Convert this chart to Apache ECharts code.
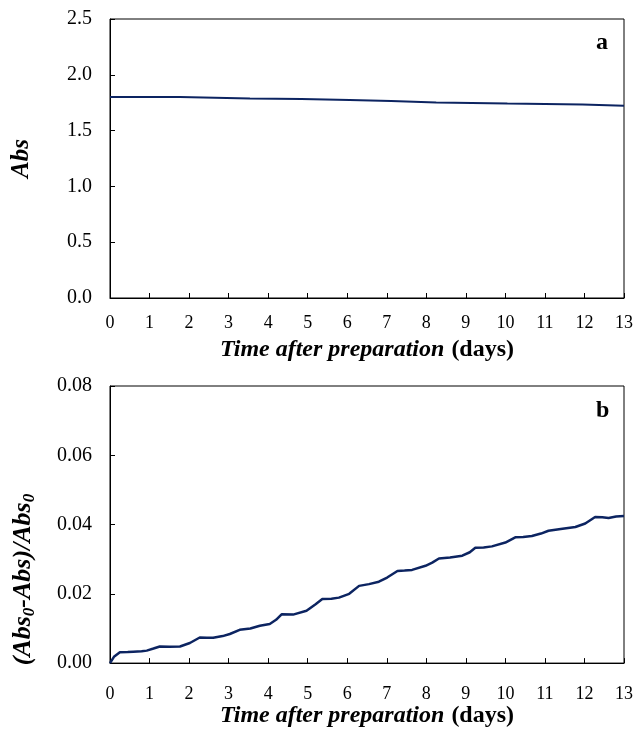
<!DOCTYPE html>
<html>
<head>
<meta charset="utf-8">
<script src="https://cdn.jsdelivr.net/npm/echarts@6/dist/echarts.min.js"></script>
<style>html,body{margin:0;padding:0;background:#fff}#c{width:636px;height:729px}</style>
</head>
<body>
<div id="c"></div>
<script>
// Panel a: absorbance vs time (step readings)
var absDays = [0, 1.77, 1.77, 3.54, 3.54, 4.84, 4.84, 6.06, 6.06, 7.11, 7.11, 8.25, 8.25, 10.05, 10.05, 11.95, 11.95, 13];
var absVals = [1.800, 1.800, 1.788, 1.788, 1.783, 1.783, 1.774, 1.774, 1.765, 1.765, 1.752, 1.752, 1.743, 1.743, 1.734, 1.734, 1.722, 1.722];
// Panel b: relative decrease vs time
var relDays = [0, 0.1, 0.25, 0.45, 0.59, 0.8, 0.93, 1.1, 1.26, 1.5, 1.77, 2.02, 2.27, 2.45, 2.61, 2.85, 3.03, 3.28, 3.55, 3.79, 4.04, 4.2, 4.34, 4.63, 4.97, 5.2, 5.37, 5.6, 5.79, 6.05, 6.3, 6.55, 6.8, 7.01, 7.27, 7.45, 7.64, 7.98, 8.15, 8.32, 8.6, 8.91, 9.1, 9.24, 9.45, 9.66, 10.0, 10.25, 10.45, 10.67, 10.9, 11.09, 11.4, 11.77, 12.02, 12.27, 12.45, 12.61, 12.8, 13.0];
var relVals = [0.0000, 0.0018, 0.0031, 0.0032, 0.0033, 0.0034, 0.0036, 0.0042, 0.0048, 0.0047, 0.0048, 0.0058, 0.0074, 0.0073, 0.0073, 0.0078, 0.0084, 0.0096, 0.0100, 0.0108, 0.0113, 0.0125, 0.0141, 0.0140, 0.0151, 0.0170, 0.0185, 0.0186, 0.0189, 0.0200, 0.0223, 0.0228, 0.0235, 0.0247, 0.0266, 0.0267, 0.0269, 0.0281, 0.0290, 0.0302, 0.0305, 0.0310, 0.0320, 0.0333, 0.0334, 0.0337, 0.0348, 0.0363, 0.0364, 0.0367, 0.0374, 0.0382, 0.0387, 0.0393, 0.0403, 0.0422, 0.0421, 0.0419, 0.0423, 0.0425];

var xTicks = [0,1,2,3,4,5,6,7,8,9,10,11,12,13];
var panelLabels = ['a', 'b'];

function pairs(xs, ys) { return xs.map(function (x, i) { return [x, ys[i]]; }); }

var FONT = 'Liberation Serif';
var lineColor = '#0c2461';

function xAxisCfg(gridIndex, margin, nameGap) {
  return {
    gridIndex: gridIndex, type: 'value', min: 0, max: 13, interval: 1,
    axisLine: { show: true, lineStyle: { color: '#000', width: 1 } },
    axisTick: { show: true, inside: true, length: 5, lineStyle: { color: '#000' } },
    axisLabel: { margin: margin, color: '#000', fontFamily: FONT, fontSize: 18,
      formatter: function (v) { return xTicks.indexOf(v) >= 0 ? String(v) : ''; } },
    splitLine: { show: false },
    name: '{i|Time after preparation}{b|(days)}',
    nameLocation: 'middle', nameGap: nameGap,
    nameTextStyle: { rich: {
      i: { fontFamily: FONT, fontSize: 24, fontWeight: 'bold', fontStyle: 'italic', color: '#000' },
      b: { fontFamily: FONT, fontSize: 24, fontWeight: 'bold', color: '#000', padding: [0, 0, 0, 7] }
    } }
  };
}

var option = {
  backgroundColor: '#fff',
  animation: false,
  grid: [
    { left: 110, right: 11, top: 19, height: 279, show: true, borderColor: '#000', borderWidth: 1, containLabel: false },
    { left: 110, right: 11, top: 386, height: 278, show: true, borderColor: '#000', borderWidth: 1, containLabel: false }
  ],
  xAxis: [ xAxisCfg(0, 16, 40), xAxisCfg(1, 22, 40) ],
  yAxis: [
    { gridIndex: 0, type: 'value', min: 0, max: 2.5, interval: 0.5,
      axisLine: { show: true, lineStyle: { color: '#000' } },
      axisTick: { show: true, inside: true, length: 5, lineStyle: { color: '#000' } },
      axisLabel: { margin: 18, color: '#000', fontFamily: FONT, fontSize: 20,
        formatter: function (v) { return v.toFixed(1); } },
      splitLine: { show: false },
      name: 'Abs', nameLocation: 'middle', nameGap: 76, nameRotate: 90,
      nameTextStyle: { fontFamily: FONT, fontSize: 25, fontWeight: 'bold', fontStyle: 'italic', color: '#000' }
    },
    { gridIndex: 1, type: 'value', min: 0, max: 0.08, interval: 0.02,
      axisLine: { show: true, lineStyle: { color: '#000' } },
      axisTick: { show: true, inside: true, length: 5, lineStyle: { color: '#000' } },
      axisLabel: { margin: 18, color: '#000', fontFamily: FONT, fontSize: 20,
        formatter: function (v) { return v.toFixed(2); } },
      splitLine: { show: false },
      name: '{i|(Abs}{s|0}{i|-Abs)/Abs}{s|0}', nameLocation: 'middle', nameGap: 72, nameRotate: 90,
      nameTextStyle: { padding: [0, 110, 0, 0], rich: {
        i: { fontFamily: FONT, fontSize: 26, fontWeight: 'bold', fontStyle: 'italic', color: '#000', lineHeight: 28, verticalAlign: 'top' },
        s: { fontFamily: FONT, fontSize: 17, fontWeight: 'bold', fontStyle: 'italic', color: '#000', lineHeight: 17, verticalAlign: 'bottom' }
      } }
    }
  ],
  graphic: [
    { type: 'text', left: 596, top: 31, style: { text: panelLabels[0], font: 'bold 24px "Liberation Serif"', fill: '#000' } },
    { type: 'text', left: 596, top: 399, style: { text: panelLabels[1], font: 'bold 24px "Liberation Serif"', fill: '#000' } }
  ],
  series: [
    { type: 'line', xAxisIndex: 0, yAxisIndex: 0, data: pairs(absDays, absVals), showSymbol: false,
      lineStyle: { color: lineColor, width: 2 } },
    { type: 'line', xAxisIndex: 1, yAxisIndex: 1, data: pairs(relDays, relVals), showSymbol: false,
      lineStyle: { color: lineColor, width: 2.5 } }
  ]
};

var chart = echarts.init(document.getElementById('c'), null, { renderer: 'canvas' });
chart.setOption(option);
</script>
</body>
</html>
